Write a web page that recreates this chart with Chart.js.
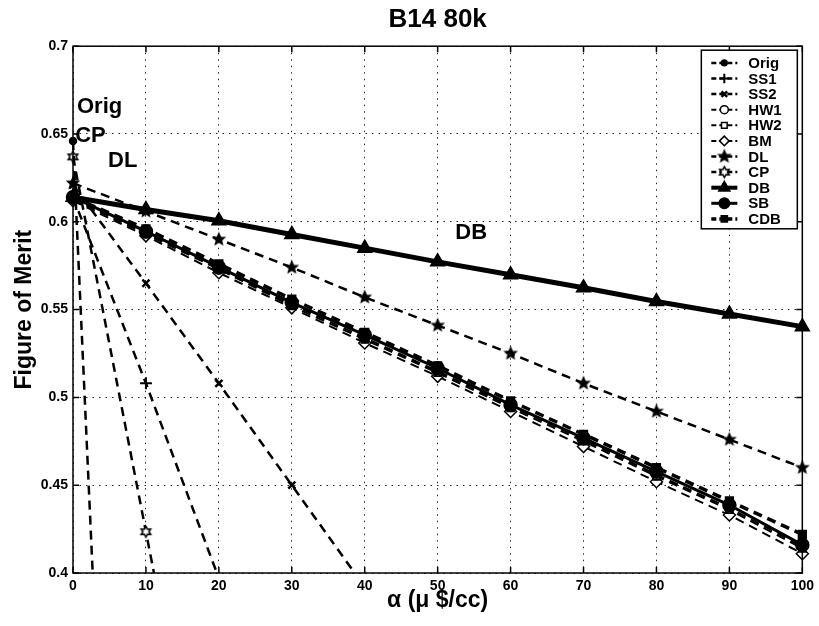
<!DOCTYPE html>
<html>
<head>
<meta charset="utf-8">
<script src="https://cdn.jsdelivr.net/npm/chart.js@4.4.0/dist/chart.umd.min.js"></script>
<style>
  html, body { margin: 0; padding: 0; background: #fff; }
  canvas { display: block; }
</style>
</head>
<body>
<canvas id="fom" width="819" height="626"></canvas>
<script>
// cost weight alpha (x axis) and figure of merit per method
const alpha = [0, 10, 20, 30, 40, 50, 60, 70, 80, 90, 100];
const fomOrig = [0.646, -0.265];
const fomSS1  = [0.614, 0.508, 0.397];
const fomSS2  = [0.621, 0.565, 0.508, 0.450, 0.392];
const fomHW1  = [0.613, 0.594, 0.573, 0.553, 0.534, 0.515, 0.495, 0.476, 0.456, 0.437, 0.415];
const fomHW2  = [0.613, 0.593, 0.573, 0.552, 0.533, 0.514, 0.494, 0.475, 0.455, 0.436, 0.414];
const fomBM   = [0.612, 0.592, 0.571, 0.551, 0.531, 0.512, 0.492, 0.472, 0.452, 0.433, 0.411];
const fomDL   = [0.622, 0.606, 0.590, 0.574, 0.557, 0.541, 0.525, 0.508, 0.492, 0.476, 0.460];
const fomCP   = [0.637, 0.4235, 0.21];
const fomDB   = [0.614, 0.607, 0.6006, 0.5928, 0.585, 0.5772, 0.5698, 0.5624, 0.5546, 0.5475, 0.5403];
const fomSB   = [0.614, 0.5945, 0.5742, 0.554, 0.5356, 0.5166, 0.4957, 0.4768, 0.4577, 0.4387, 0.416];
const fomCDB  = [0.614, 0.596, 0.576, 0.556, 0.537, 0.518, 0.498, 0.479, 0.460, 0.441, 0.422];

const xTicks = [0, 10, 20, 30, 40, 50, 60, 70, 80, 90, 100];
const xTickLabels = ['0', '10', '20', '30', '40', '50', '60', '70', '80', '90', '100'];
const yTicks = [0.4, 0.45, 0.5, 0.55, 0.6, 0.65, 0.7];
const yTickLabels = ['0.4', '0.45', '0.5', '0.55', '0.6', '0.65', '0.7'];

// text notes placed in data coordinates
const notes = ['Orig', 'CP', 'DL', 'DB'];
const noteX = [0.55, 0.3, 4.8, 54.6];
const noteY = [0.6655, 0.649, 0.6348, 0.5937];

const FONT = '"Liberation Sans", Arial, Helvetica, sans-serif';
Chart.defaults.font.family = FONT;
Chart.defaults.color = '#000';

// filled / open star markers drawn into small canvases
function starImg(r, n, inner, fill) {
  const s = Math.ceil(r * 2 + 4);
  const c = document.createElement('canvas');
  c.width = c.height = s;
  const g = c.getContext('2d');
  g.beginPath();
  for (let i = 0; i < n * 2; i++) {
    const rr = i % 2 ? r * inner : r;
    const a = -Math.PI / 2 + i * Math.PI / n;
    g.lineTo(s / 2 + rr * Math.cos(a), s / 2 + rr * Math.sin(a));
  }
  g.closePath();
  g.fillStyle = fill;
  g.fill();
  g.lineWidth = 1.5;
  g.strokeStyle = '#000';
  g.stroke();
  return c;
}
const pentaStar = starImg(5.8, 5, 0.45, '#000');
const hexaStar = starImg(5.5, 6, 0.55, '#fff');

function series(label, ys, opts) {
  return Object.assign({
    label: label,
    data: ys.map((y, i) => ({ x: alpha[i], y: y })),
    borderColor: '#000',
    backgroundColor: '#000',
    pointBorderColor: '#000',
    pointBackgroundColor: '#000',
    borderWidth: 2.5,
    borderDash: [9, 6],
    pointRadius: 4,
    pointBorderWidth: 1.5,
    pointStyle: 'circle',
    tension: 0,
    clip: { left: 12, top: 12, right: 12, bottom: 0 }
  }, opts);
}

// lower "order" is painted last, so the heavy SB/DB marks sit on top
const datasets = [
  series('Orig', fomOrig, { pointRadius: 3.5 }),
  series('SS1', fomSS1, { pointStyle: 'cross', pointRadius: 6, pointBorderWidth: 2 }),
  series('SS2', fomSS2, { pointStyle: 'crossRot', pointRadius: 5, pointBorderWidth: 2.5 }),
  series('HW1', fomHW1, { borderWidth: 2, pointBackgroundColor: '#fff', pointRadius: 5, order: 2 }),
  series('HW2', fomHW2, { borderWidth: 2, pointStyle: 'rect', pointBackgroundColor: '#fff', pointRadius: 5, order: 2 }),
  series('BM', fomBM, { borderWidth: 2, pointStyle: 'rectRot', pointBackgroundColor: '#fff', pointRadius: 6, order: 2 }),
  series('DL', fomDL, { pointStyle: pentaStar }),
  series('CP', fomCP, { pointStyle: hexaStar }),
  series('DB', fomDB, { borderDash: [], borderWidth: 5, pointStyle: 'triangle', pointRadius: 8, order: -1 }),
  series('SB', fomSB, { borderDash: [], borderWidth: 3, pointRadius: 6.5, order: -1 }),
  series('CDB', fomCDB, { borderWidth: 3.5, pointStyle: 'rect', pointRadius: 5.5, order: 1 })
];

// axes box with inward ticks, drawn over the lines
const frame = {
  id: 'frame',
  afterDatasetsDraw(chart) {
    const { ctx, chartArea: a, scales } = chart;
    ctx.save();
    ctx.strokeStyle = '#000';
    ctx.lineWidth = 1.5;
    ctx.strokeRect(a.left, a.top, a.right - a.left, a.bottom - a.top);
    ctx.beginPath();
    xTicks.forEach(v => {
      const px = scales.x.getPixelForValue(v);
      ctx.moveTo(px, a.bottom); ctx.lineTo(px, a.bottom - 6);
      ctx.moveTo(px, a.top); ctx.lineTo(px, a.top + 6);
    });
    yTicks.forEach(v => {
      const py = scales.y.getPixelForValue(v);
      ctx.moveTo(a.left, py); ctx.lineTo(a.left + 6, py);
      ctx.moveTo(a.right, py); ctx.lineTo(a.right - 6, py);
    });
    ctx.stroke();

    ctx.fillStyle = '#000';
    ctx.font = 'bold 22px ' + FONT;
    ctx.textBaseline = 'middle';
    notes.forEach((t, i) => {
      ctx.textAlign = t === 'DB' ? 'center' : 'left';
      ctx.fillText(t, scales.x.getPixelForValue(noteX[i]), scales.y.getPixelForValue(noteY[i]));
    });
    ctx.restore();
  }
};

// boxed legend in the upper right corner: line sample, marker, name
const boxLegend = {
  id: 'boxLegend',
  afterDraw(chart) {
    const { ctx, chartArea: a } = chart;
    const sets = chart.data.datasets;
    const rowH = 15.6, w = 96;
    const x0 = a.right - 5 - w, y0 = a.top + 4;
    const h = rowH * sets.length + 7;
    ctx.save();
    ctx.fillStyle = '#fff';
    ctx.fillRect(x0, y0, w, h);
    ctx.strokeStyle = '#000';
    ctx.lineWidth = 1.5;
    ctx.strokeRect(x0, y0, w, h);
    ctx.font = 'bold 15px ' + FONT;
    ctx.textBaseline = 'middle';
    ctx.textAlign = 'left';
    sets.forEach((ds, i) => {
      const y = y0 + 12.7 + i * rowH;
      ctx.setLineDash(ds.borderDash.length ? [5, 3] : []);
      ctx.lineWidth = Math.min(ds.borderWidth, 4);
      ctx.beginPath();
      ctx.moveTo(x0 + 10, y);
      ctx.lineTo(x0 + 36, y);
      ctx.stroke();
      ctx.setLineDash([]);
      ctx.fillStyle = ds.pointBackgroundColor;
      ctx.lineWidth = ds.pointBorderWidth;
      Chart.helpers.drawPoint(ctx, {
        pointStyle: ds.pointStyle,
        radius: ds.pointRadius * 0.8,
        rotation: 0,
        borderWidth: ds.pointBorderWidth
      }, x0 + 23, y);
      ctx.fillStyle = '#000';
      ctx.fillText(ds.label, x0 + 47, y + 1);
    });
    ctx.restore();
  }
};

new Chart(document.getElementById('fom'), {
  type: 'line',
  data: { datasets: datasets },
  options: {
    responsive: false,
    animation: false,
    devicePixelRatio: 1,
    layout: { padding: { left: 0, right: 16, top: 0, bottom: 0 } },
    plugins: {
      legend: { display: false },
      tooltip: { enabled: false },
      title: {
        display: true,
        text: 'B14 80k',
        fullSize: false,
        font: { size: 26, weight: 'bold' },
        padding: { top: 4, bottom: 11 }
      }
    },
    scales: {
      x: {
        type: 'linear',
        min: 0,
        max: 100,
        afterFit(s) { s.height = 53; },
        afterBuildTicks(s) { s.ticks = xTicks.map(v => ({ value: v })); },
        ticks: {
          padding: 5,
          font: { size: 14, weight: 'bold' },
          callback: (v, i) => xTickLabels[i]
        },
        grid: { color: 'rgba(0,0,0,0.85)', lineWidth: 1, drawTicks: false },
        border: { display: false, dash: [1.5, 5] },
        title: {
          display: true,
          text: 'α (μ $/cc)',
          font: { size: 23, weight: 'bold' },
          padding: { top: 0, bottom: 12 }
        }
      },
      y: {
        type: 'linear',
        min: 0.4,
        max: 0.7,
        afterFit(s) { s.width = 73; },
        afterBuildTicks(s) { s.ticks = yTicks.map(v => ({ value: v })); },
        ticks: {
          padding: 5,
          font: { size: 14, weight: 'bold' },
          callback: (v, i) => yTickLabels[i]
        },
        grid: { color: 'rgba(0,0,0,0.85)', lineWidth: 1, drawTicks: false },
        border: { display: false, dash: [1.5, 5] },
        title: {
          display: true,
          text: 'Figure of Merit',
          font: { size: 23, weight: 'bold' },
          padding: { top: 11, bottom: 0 }
        }
      }
    }
  },
  plugins: [frame, boxLegend]
});
</script>
</body>
</html>
